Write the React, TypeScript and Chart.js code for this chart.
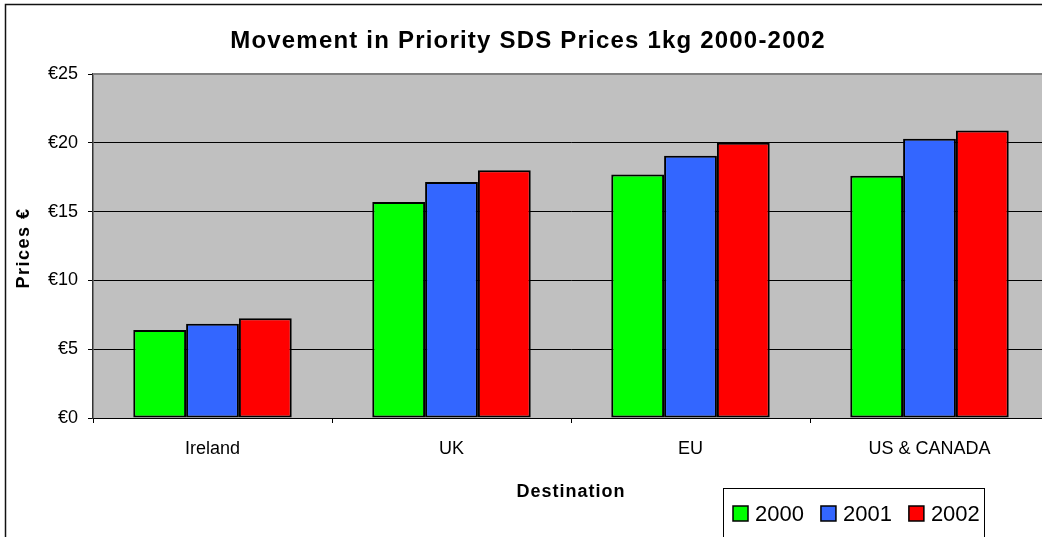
import React, { useEffect, useRef } from "react";
import { Chart, registerables } from "chart.js";

Chart.register(...registerables);

const categories = ["Ireland", "UK", "EU", "US & CANADA"];
const seriesNames = ["2000", "2001", "2002"];
const values2000 = [6.4, 15.7, 17.7, 17.6];
const values2001 = [6.85, 17.15, 19.05, 20.3];
const values2002 = [7.25, 18.0, 20.0, 20.9];
const seriesColors = ["#00FF00", "#3366FF", "#FF0000"];
const yTicks = [0, 5, 10, 15, 20, 25];

const chartTitle = "Movement in Priority SDS Prices 1kg 2000-2002";
const xTitle = "Destination";
const yTitle = "Prices €";

const W = 1060;
const H = 560;
const PLOT_LEFT = 93;
const PLOT_RIGHT = 1049;
const PLOT_TOP = 74;
const PLOT_BOTTOM = 418;
const FONT = '"Liberation Sans", Arial, sans-serif';

const decor = {
  id: "decor",
  beforeDraw(chart: any) {
    const { ctx, chartArea } = chart;
    ctx.save();
    ctx.fillStyle = "#FFFFFF";
    ctx.fillRect(0, 0, chart.width, chart.height);
    ctx.fillStyle = "#C0C0C0";
    ctx.fillRect(chartArea.left, chartArea.top, chartArea.right - chartArea.left, chartArea.bottom - chartArea.top);
    ctx.restore();
  },
  beforeDatasetsDraw(chart: any) {
    const { ctx, chartArea } = chart;
    ctx.save();
    ctx.strokeStyle = "#808080";
    ctx.lineWidth = 2;
    ctx.beginPath();
    ctx.moveTo(chartArea.left, chartArea.top);
    ctx.lineTo(chartArea.right, chartArea.top);
    ctx.lineTo(chartArea.right, chartArea.bottom);
    ctx.stroke();
    ctx.restore();
  },
  afterDraw(chart: any) {
    const { ctx, chartArea } = chart;
    ctx.save();
    // outer chart frame
    ctx.strokeStyle = "#111";
    ctx.lineWidth = 1.5;
    ctx.strokeRect(5.5, 4.5, W + 20, H + 20);

    ctx.fillStyle = "#000";
    // chart title
    ctx.font = `bold 24px ${FONT}`;
    (ctx as any).letterSpacing = "1.2px";
    ctx.textAlign = "center";
    ctx.textBaseline = "middle";
    ctx.fillText(chartTitle, 528, 41);

    // x axis title
    ctx.font = `bold 18px ${FONT}`;
    (ctx as any).letterSpacing = "1px";
    ctx.fillText(xTitle, (chartArea.left + chartArea.right) / 2, 492);

    // y axis title
    ctx.save();
    (ctx as any).letterSpacing = "1.5px";
    ctx.translate(24, (chartArea.top + chartArea.bottom) / 2 + 2);
    ctx.rotate(-Math.PI / 2);
    ctx.fillText(yTitle, 0, 0);
    ctx.restore();

    // legend
    (ctx as any).letterSpacing = "0px";
    ctx.strokeStyle = "#000";
    ctx.lineWidth = 1;
    ctx.strokeRect(723.5, 488.5, 261, 80);
    ctx.font = `22px ${FONT}`;
    ctx.textAlign = "left";
    let x = 733;
    const cy = 513.5;
    chart.data.datasets.forEach((ds: any) => {
      ctx.fillStyle = ds.backgroundColor;
      ctx.fillRect(x, cy - 7.5, 15, 15);
      ctx.strokeStyle = "#000";
      ctx.lineWidth = 1.5;
      ctx.strokeRect(x, cy - 7.5, 15, 15);
      ctx.fillStyle = "#000";
      ctx.fillText(ds.label, x + 22, cy + 1);
      x += 22 + ctx.measureText(ds.label).width + 17;
    });
    ctx.restore();
  },
};

export default function App() {
  const canvasRef = useRef<HTMLCanvasElement | null>(null);

  useEffect(() => {
    if (!canvasRef.current) return;
    const allValues = [values2000, values2001, values2002];
    const chart = new Chart(canvasRef.current, {
      type: "bar",
      data: {
        labels: categories,
        datasets: seriesNames.map((name, i) => ({
          label: name,
          data: allValues[i],
          backgroundColor: seriesColors[i],
          borderColor: "#000",
          borderWidth: 2,
          borderSkipped: false,
          barPercentage: 1,
          categoryPercentage: 0.663,
        })),
      },
      options: {
        responsive: false,
        animation: false,
        devicePixelRatio: 1,
        layout: {
          padding: { left: 0, top: PLOT_TOP, right: W - PLOT_RIGHT, bottom: 0 },
        },
        plugins: {
          legend: { display: false },
          title: { display: false },
          tooltip: { enabled: false },
        },
        scales: {
          x: {
            afterFit: (s: any) => {
              s.height = H - PLOT_BOTTOM;
            },
            grid: {
              display: true,
              drawOnChartArea: false,
              drawTicks: true,
              tickLength: 5,
              color: "#000",
              offset: true,
            },
            border: { display: true, color: "#000", width: 1 },
            ticks: {
              color: "#000",
              font: { family: FONT, size: 18 },
              padding: 15,
              maxRotation: 0,
              autoSkip: false,
            },
          },
          y: {
            min: yTicks[0],
            max: yTicks[yTicks.length - 1],
            afterFit: (s: any) => {
              s.width = PLOT_LEFT;
            },
            afterBuildTicks: (s: any) => {
              s.ticks = yTicks.map((v) => ({ value: v }));
            },
            grid: {
              color: "#000",
              lineWidth: 1,
              tickLength: 5,
              drawTicks: true,
            },
            border: { display: true, color: "#333", width: 1.5 },
            ticks: {
              color: "#000",
              font: { family: FONT, size: 18 },
              padding: 10,
              callback: (v: any) => "€" + v,
            },
          },
        },
      },
      plugins: [decor],
    });
    return () => chart.destroy();
  }, []);

  return (
    <div
      style={{
        position: "fixed",
        left: 0,
        top: 0,
        width: 1042,
        height: 537,
        overflow: "hidden",
        background: "#fff",
      }}
    >
      <canvas ref={canvasRef} width={W} height={H} style={{ display: "block" }} />
    </div>
  );
}
